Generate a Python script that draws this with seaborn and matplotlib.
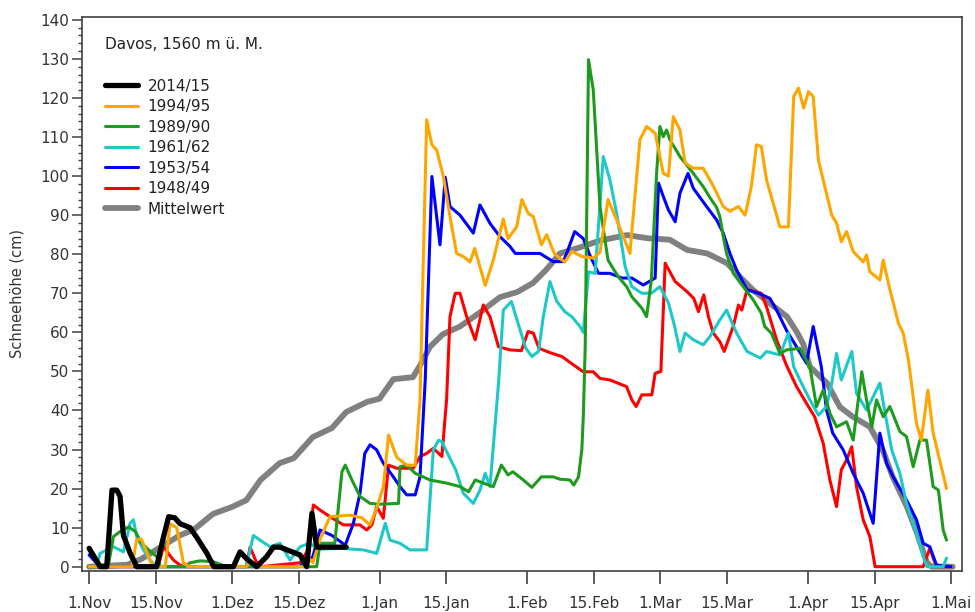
"""
Schneehöhe Davos (1560 m ü. M.) – Winter 2014/15 im Vergleich mit
schneearmen Wintern und dem langjährigen Mittelwert.
x = Tage ab 1. November, y = Schneehöhe in cm.
"""
import matplotlib
matplotlib.use("Agg")
import matplotlib.pyplot as plt
from matplotlib.ticker import MultipleLocator
import seaborn as sns

TICK_DAYS = [0, 14, 30, 44, 61, 75, 92, 106, 120, 134, 151, 165, 181]
TICK_LABELS = ["1.Nov", "15.Nov", "1.Dez", "15.Dez", "1.Jan", "15.Jan", "1.Feb",
               "15.Feb", "1.Mar", "15.Mar", "1.Apr", "15.Apr", "1.Mai"]

# (Tag, Schneehöhe cm)
W_2014 = [(0, 4.7), (2.3, 0), (3.7, 0), (4.8, 19.6), (5.8, 19.6), (6.5, 18), (7.2, 8),
          (8.6, 3.5), (10, 0), (14.2, 0), (15.3, 6), (16.7, 12.8), (18, 12.5), (19.1, 11),
          (21.2, 10), (22.6, 7.5), (24.7, 3.5), (26.2, 0), (30.3, 0), (31.7, 3.8), (33.1, 2),
          (35.2, 0), (37.3, 2.6), (38.7, 5), (40.1, 5), (42.2, 4), (44.3, 3), (45.7, 0),
          (46.8, 13.7), (47.8, 5), (54, 5)]

W_1994 = [(0, 0), (9, 0), (10, 7), (11, 7), (12, 4), (13, 1), (14, 0), (16, 0), (17, 11),
          (18.4, 10), (19.8, 1), (21, 0), (33, 0), (33.8, 1), (35, 0), (45, 0), (46, 2.6),
          (47, 1), (48.5, 7), (50.6, 12.8), (54.8, 13.2), (57.3, 12.5), (59, 10.7), (60.4, 15),
          (61.8, 20.5), (62.9, 33.7), (64.6, 28), (66.7, 26), (68.5, 26), (69.5, 42.7),
          (70.9, 114.4), (72, 108), (73, 106.7), (74.4, 100), (75.8, 89.6), (77.2, 80.2),
          (78.6, 79.4), (80, 78), (81, 81.5), (83.2, 72), (84.9, 78.5), (87, 89), (88, 84),
          (89.8, 87), (90.9, 94), (92.2, 90.5), (93.3, 89.6), (95, 82.4), (96.1, 85),
          (97.8, 80), (99.9, 78), (101.4, 80.7), (103.5, 79.4), (105.9, 79), (107.3, 80.5),
          (109, 94), (110.8, 88.8), (113.6, 80.2), (115.7, 109.3), (117.1, 112.7), (118.9, 111),
          (120.6, 100.7), (121.7, 100), (122.7, 115.2), (124.1, 111.8), (125.2, 103.3),
          (126.9, 102), (129, 102), (131.1, 97.5), (133.2, 92.2), (134.6, 91), (136.4, 92.2),
          (137.8, 90), (139.1, 97.3), (140.2, 108), (141.2, 107.6), (142.3, 99), (145.1, 87),
          (146.9, 87), (148, 120.4), (149, 122.5), (150.1, 117.4), (151.1, 121.6),
          (152.1, 120.4), (153.2, 104), (156, 90), (157, 88), (158, 83.2), (159.1, 85.8),
          (160.5, 80.7), (162.6, 78), (163.3, 79.8), (164, 75.5), (166.1, 73.4), (166.8, 78.5),
          (168.2, 71), (170, 62.3), (171, 59.8), (172.1, 53), (173.8, 36.7), (174.8, 32.4),
          (176.2, 45.2), (177.3, 34.2), (180.1, 20)]

W_1989 = [(0, 0), (4, 0), (5.1, 7.7), (6.5, 9), (8.3, 10.2), (9.7, 9), (11, 6), (12.5, 4.3),
          (14.2, 2.6), (15, 0), (20, 0), (21.2, 1), (23.3, 1.5), (26, 1.3), (28, 0.4), (29, 0),
          (47.8, 0), (48.5, 6), (51.6, 6), (53.1, 24.3), (53.8, 26), (55.2, 22.2), (56.9, 18),
          (59, 16.2), (61.1, 16), (65, 16.2), (65.3, 25.6), (66.7, 26), (68.5, 23.9),
          (71.6, 22.2), (75.1, 21.4), (77.9, 20.5), (79.7, 19.2), (81.1, 22.2), (82.8, 21.4),
          (84.9, 20.5), (86.6, 26), (88, 23.5), (89, 24.3), (91.2, 22.2), (93, 20.3), (95, 23),
          (97.5, 23), (98.9, 22.4), (101, 22.2), (101.8, 20.9), (102.8, 23), (103.5, 30),
          (103.8, 38.4), (104.2, 56), (104.9, 129.8), (105.9, 122), (107.3, 92.2), (109, 78.5),
          (111.1, 74.3), (112.9, 71.7), (114, 69.1), (116.1, 66.2), (117.1, 64), (118.1, 73.4),
          (119.2, 100.7), (119.9, 112.7), (120.6, 110.1), (121.3, 111.8), (122, 109.3),
          (124.1, 105), (126.9, 100.7), (129, 97.3), (130.4, 94.5), (131.8, 92), (132.5, 89.6),
          (133.2, 84.5), (133.9, 80.2), (135.3, 75.1), (137.4, 71.7), (139.5, 68.3),
          (141.2, 64.9), (141.9, 61.5), (143.3, 59.8), (145.1, 54.6), (146.5, 55.5),
          (149.3, 55.9), (151.4, 51.2), (152.8, 41), (154.2, 45.2), (155.6, 39.3), (157, 35.8),
          (159.1, 37.1), (160.5, 32.4), (162.3, 49.9), (163.3, 42.7), (164.4, 35.8),
          (165.4, 42.7), (166.8, 38.4), (168.2, 41), (170.3, 34.6), (171.7, 33.3),
          (173.1, 25.6), (174.5, 32.4), (175.9, 32.4), (177.3, 20.5), (178.4, 19.6),
          (179.4, 9.4), (180.1, 6.8)]

W_1961 = [(0, 0), (1.5, 0), (2.3, 3.4), (3.7, 4.3), (5.1, 5.1), (7.2, 3.8), (8.6, 11.1),
          (9.3, 12), (10, 7.7), (11.4, 4.3), (12.8, 1.7), (14, 0), (33, 0), (34.5, 8),
          (35.9, 6.8), (38, 5.1), (40.1, 6), (42.2, 1.7), (44.3, 5.1), (46.4, 6), (48, 4.5),
          (53, 4.7), (57.6, 4.3), (60.4, 3.4), (62.2, 11.1), (63.2, 6.8), (65.3, 6),
          (67.4, 4.3), (70.9, 4.3), (72.3, 29.9), (73.4, 32.4), (74.1, 32), (75.6, 28.2),
          (77, 24.8), (78.6, 18.8), (80.7, 16.2), (82.1, 19.6), (83.2, 23.9), (84.2, 20.5),
          (86, 47), (87, 65.7), (88.7, 67.9), (90.3, 61.5), (91.7, 56), (93, 53.8),
          (94.4, 55.1), (95.4, 64), (96.8, 73), (98.2, 68), (99.9, 65.3), (101.4, 64),
          (103.1, 61.5), (103.8, 60), (104.9, 75.5), (106.3, 75.1), (108, 105), (109.4, 99),
          (110.8, 90.5), (112.6, 76.8), (114, 71.7), (116.1, 70), (118.1, 70), (119.9, 71.7),
          (121.7, 67.5), (123, 61.5), (124.1, 55.1), (125.2, 59.8), (126.9, 58.1), (129, 56.8),
          (130.4, 58.9), (132.5, 63.2), (133.9, 65.7), (136, 59.8), (138.2, 55.1), (141, 53.4),
          (142.3, 55.1), (145.1, 54.2), (146.9, 59.8), (148, 51.2), (149.3, 47.8),
          (151.4, 42.7), (153.2, 38.8), (154.9, 41), (156, 47), (157, 54.6), (158, 47.8),
          (160.2, 55.1), (161.2, 44.4), (163.3, 40.1), (166.1, 47), (167.2, 39.3),
          (168.6, 29.9), (170.3, 23.9), (171.7, 16.2), (173.8, 8.6), (175.2, 2.6), (176, 0),
          (179.4, 0), (180.1, 2.2)]

W_1953 = [(0, 3), (1.5, 1), (2.5, 0), (44, 0), (45.7, 1), (47, 2.6), (48.5, 9.4), (51, 8),
          (53.8, 5.5), (55.5, 11.1), (56.9, 18.8), (57.9, 29), (59, 31.2), (60.4, 29.9),
          (61.8, 26.5), (63.9, 23), (65.3, 20.5), (66.7, 18.4), (68.5, 18.4), (69.5, 23),
          (70.6, 47.8), (72, 99.9), (73.7, 82.4), (74.8, 99.7), (75.8, 92.2), (77.9, 90),
          (80.7, 85.4), (82.1, 92.6), (84.2, 87.9), (86.3, 84.5), (88.4, 82), (89.5, 80.2),
          (94.7, 80.2), (97.5, 78.1), (99.6, 78.1), (100.3, 80.2), (102, 85.8), (103.8, 84),
          (105.3, 79.4), (107, 75.1), (109.4, 75.1), (111.9, 73.9), (114, 73.9), (116.4, 72.1),
          (118.9, 73.9), (119.6, 98.2), (120.6, 94.8), (121.7, 91.3), (123.1, 88.3),
          (124.1, 95.6), (125.8, 100.7), (126.9, 96.9), (129.7, 92.2), (131.8, 88.8),
          (133.2, 85.4), (134.6, 80.2), (136, 76), (138.2, 70.9), (140.6, 70), (143, 68.7),
          (144.4, 65.7), (146.5, 60.5), (148.6, 56.3), (150.7, 52.1), (152.1, 61.5),
          (153.8, 51.2), (154.9, 40.1), (156.2, 34.2), (158.4, 29.9), (160.5, 23.9),
          (162.6, 18.8), (164.7, 11.1), (166.1, 34.2), (167.5, 26.5), (168.9, 23),
          (171.7, 17.1), (173.8, 12), (175.2, 6), (176.6, 5.1), (178, 0.4), (181, 0)]

W_1948 = [(0, 0), (14.5, 0), (15.6, 5.1), (17.7, 1.7), (19.1, 0.4), (20, 0), (33, 0),
          (33.8, 5), (35.2, 1), (36, 0), (44.3, 1), (46, 4.3), (47.1, 15.8), (48.5, 14.5),
          (50.6, 12.8), (53.4, 10.7), (56.9, 10.7), (58.3, 9.4), (59.4, 10.7), (60.4, 15.4),
          (61.8, 12.4), (62.9, 26), (64.6, 25.2), (68.1, 25.2), (69.5, 28.2), (70.9, 29),
          (72.3, 30.3), (74.1, 28.2), (75.1, 43), (75.8, 64), (76.9, 70), (77.9, 70),
          (79.3, 64), (81.1, 58.1), (82.8, 67), (84.2, 64), (86, 56.3), (88.4, 55.5),
          (90.8, 55.3), (92.2, 60.2), (93.3, 59.8), (94.5, 55.9), (96.8, 54.8), (99.3, 53.8),
          (101.7, 51.7), (103.8, 49.9), (105.9, 49.9), (107.3, 48.2), (109.4, 47.8),
          (112.9, 46.1), (114, 42.7), (114.9, 41), (116.1, 44), (118.2, 44), (118.9, 49.5),
          (120.1, 50), (121, 77.7), (123.1, 73), (125.6, 70.4), (127, 68.7), (128, 65.3),
          (129.1, 69.6), (130.1, 64), (131.1, 59.8), (132.5, 57.6), (133.4, 55.1),
          (135.3, 61.5), (136.4, 67), (137.1, 65.7), (138.2, 70.9), (141.2, 70), (142.3, 66.5),
          (144.4, 58.1), (146.5, 51.5), (148.6, 46.1), (150.7, 41.8), (152.4, 38.4),
          (154.2, 31.6), (155.6, 22.2), (157, 15.4), (158, 24.8), (159.1, 27.3), (160.2, 30.7),
          (161.2, 20.5), (162.6, 12), (164, 7.7), (165.1, 0), (175.2, 0), (176.6, 4.7),
          (177.7, 0.9), (178.5, 0), (181, 0)]

MEAN = [(0, 0), (8, 0.5), (11, 2), (15, 5), (19, 8), (22, 9.5), (26, 13.5), (30, 15.3),
        (33, 17), (36, 22.2), (40, 26.5), (43, 27.8), (47, 33.2), (51, 35.5), (54, 39.6),
        (58.4, 42.2), (61, 43), (63.9, 48), (68, 48.5), (69.5, 51.5), (71.6, 56.3),
        (74.3, 59.5), (77.9, 61.5), (82, 65), (86.3, 69), (89.9, 70.3), (93.2, 72.6), (96, 76),
        (98.9, 80.2), (103, 81.7), (107.3, 83.5), (113, 84.9), (117.2, 84.1), (122, 83.7),
        (125.6, 81.1), (129.8, 80.2), (134, 77.7), (136.7, 74.2), (139.4, 70.9), (142.4, 68),
        (146.6, 64), (148.7, 60), (150, 57), (151.4, 51.2), (155, 47), (157.7, 40.9),
        (160.4, 38.4), (164, 35.8), (166.7, 29.9), (168.8, 23), (171.8, 15.3), (173.9, 8.6),
        (176, 1), (177, 0), (181.4, 0)]

# label, data, colour, line width, zorder
SERIES = [
    ("2014/15", W_2014, "black", 3.8, 8),
    ("1994/95", W_1994, "#ffa500", 2.2, 7),
    ("1989/90", W_1989, "#1e9a1e", 2.2, 6),
    ("1961/62", W_1961, "#1ec8c8", 2.2, 5),
    ("1953/54", W_1953, "#0000ff", 2.2, 4),
    ("1948/49", W_1948, "#ff0000", 2.2, 3),
    ("Mittelwert", MEAN, "#808080", 4.2, 2),
]

sns.set_theme(style="ticks")
plt.rcParams["font.family"] = ["DejaVu Sans"]

fig, ax = plt.subplots(figsize=(9.75, 6.12), dpi=100)
fig.subplots_adjust(left=0.0841, right=0.9864, bottom=0.067, top=0.9727)

for label, pts, color, lw, z in SERIES:
    days = [p[0] for p in pts]
    vals = [p[1] for p in pts]
    sns.lineplot(x=days, y=vals, ax=ax, color=color, linewidth=lw, label=label,
                 sort=False, estimator=None, zorder=z)

ax.set_xlim(-1.5, 183.3)
ax.set_ylim(-1.1, 140.8)
ax.set_xticks(TICK_DAYS, TICK_LABELS)
ax.yaxis.set_major_locator(MultipleLocator(10))
ax.yaxis.set_minor_locator(MultipleLocator(2))

frame = "#404040"
for sp in ax.spines.values():
    sp.set_color(frame)
    sp.set_linewidth(1.2)
ax.tick_params(axis="x", direction="out", length=9, width=1.2, pad=9,
               labelsize=11, color=frame, labelcolor="#333333")
ax.tick_params(axis="y", which="major", direction="out", length=7, width=1.1, pad=2,
               labelsize=11, color=frame, labelcolor="#333333")
ax.tick_params(axis="y", which="minor", direction="out", length=3, width=1.0, color=frame)

ax.set_xlabel("")
ax.set_ylabel("Schneehöhe (cm)", fontsize=10.5, color="#333333")
ax.yaxis.set_label_coords(-0.065, 0.5)

ax.text(0.026, 0.949, "Davos, 1560 m ü. M.", transform=ax.transAxes,
        ha="left", va="center", fontsize=11, color="#222222")

handles, labels = ax.get_legend_handles_labels()
ax.legend(handles, labels, loc="upper left", bbox_to_anchor=(0.026, 0.888),
          frameon=False, fontsize=11, handlelength=2.2, handletextpad=0.6,
          labelspacing=0.36, borderpad=0, borderaxespad=0, labelcolor="#222222")

fig.savefig("out.png", dpi=100)
plt.close(fig)
